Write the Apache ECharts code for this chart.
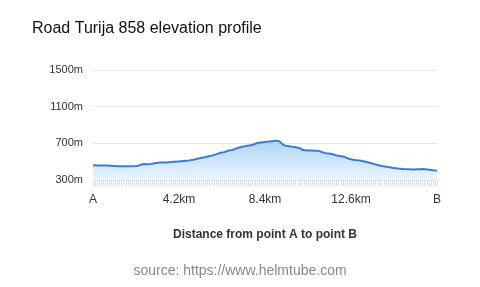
<!DOCTYPE html>
<html>
<head>
<meta charset="utf-8">
<script src="https://cdn.jsdelivr.net/npm/echarts@6/dist/echarts.min.js"></script>
<style>html,body{margin:0;padding:0;background:#fff}#c{width:480px;height:287px}</style>
</head>
<body>
<div id="c"></div>
<script>
// Distance step in km between samples (0 .. 16.8 km)
var distanceStepKm = 0.1;
var sampleCount = 169;
// Tick labels shown every 4.2 km
var tickLabels = ['A', '4.2km', '8.4km', '12.6km', 'B'];
var yTicks = [300, 700, 1100, 1500];
// Elevation (m)
var elevation = [
  460,460,459,459,458,458,457,457,456,455,
  454,452,451,450,450,449,449,449,450,450,
  451,452,455,462,472,474,473,473,475,478,
  483,486,488,490,491,490,491,493,495,498,
  500,501,503,505,507,509,511,514,518,522,
  527,532,537,542,546,550,556,562,566,572,
  580,588,596,600,604,611,620,625,628,635,
  645,652,658,665,668,672,677,680,684,693,
  702,706,710,713,716,718,720,724,726,727,
  728,724,700,682,675,672,668,664,661,658,
  652,648,632,625,624,623,622,621,620,620,
  618,612,603,596,592,590,586,580,574,568,
  564,560,556,550,540,532,527,522,518,515,
  513,509,505,500,494,489,482,476,470,464,
  458,453,449,445,441,438,434,431,428,425,
  423,421,419,418,417,416,415,415,416,417,
  418,419,418,416,413,410,407,405,402
];
var categories = [];
for (var i = 0; i < sampleCount; i++) categories.push((i * distanceStepKm).toFixed(1));

var chart = echarts.init(document.getElementById('c'));
chart.setOption({
  animation: false,
  textStyle: { fontFamily: 'Liberation Sans, Arial, sans-serif' },
  title: [
    { text: 'Road Turija 858 elevation profile', left: 27, top: 16,
      textStyle: { fontSize: 16, fontWeight: 'normal', color: '#111', fontFamily: 'Liberation Sans, Arial, sans-serif' } },
    { text: 'source: https://www.helmtube.com', left: 'center', top: 259,
      textStyle: { fontSize: 14, fontWeight: 'normal', color: '#888', fontFamily: 'Liberation Sans, Arial, sans-serif' } }
  ],
  grid: { left: 93, right: 43, top: 70, bottom: 107 },
  xAxis: {
    type: 'category',
    data: categories,
    boundaryGap: false,
    name: 'Distance from point A to point B',
    nameLocation: 'middle',
    nameGap: 49,
    nameTextStyle: { fontSize: 12, fontWeight: 'bold', color: '#333' },
    axisLine: { show: true, lineStyle: { color: '#e6e6e6' } },
    axisTick: { show: true, interval: 0, length: 6, lineStyle: { color: '#dcdcdc' } },
    axisLabel: {
      interval: 41, margin: 14, fontSize: 12, color: '#333',
      formatter: function (v, idx) { return tickLabels[Math.round(idx / 42)]; }
    },
    splitLine: { show: false }
  },
  yAxis: {
    type: 'value',
    min: yTicks[0], max: yTicks[yTicks.length - 1], interval: 400,
    axisLine: { show: false },
    axisTick: { show: false },
    axisLabel: { formatter: function (v) { return v + 'm'; }, fontSize: 11, color: '#333', margin: 10 },
    splitLine: { lineStyle: { color: '#e6e6e6' } }
  },
  series: [{
    type: 'line',
    data: elevation,
    symbol: 'none',
    lineStyle: { color: '#3c7bd6', width: 2 },
    areaStyle: {
      color: new echarts.graphic.LinearGradient(0, 0, 0, 1, [
        { offset: 0, color: '#8cc2f4' },
        { offset: 1, color: '#e3f0fd' }
      ])
    }
  }]
});
</script>
</body>
</html>
